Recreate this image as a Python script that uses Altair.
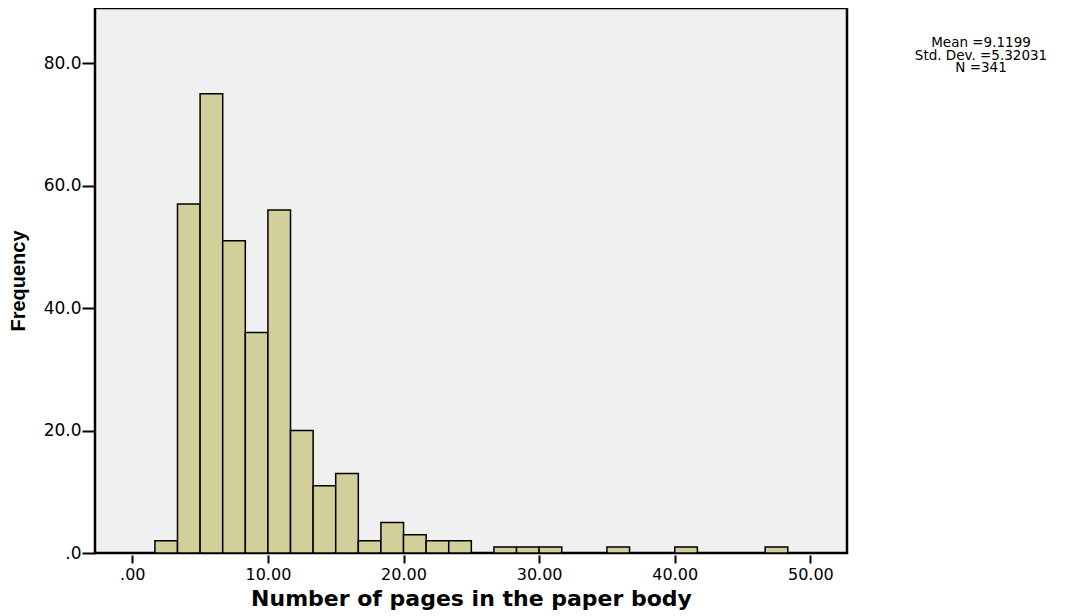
import altair as alt
import pandas as pd

bin_start = [1.6667, 3.3333, 5.0, 6.6667, 8.3333, 10.0, 11.6667, 13.3333, 15.0, 16.6667,
             18.3333, 20.0, 21.6667, 23.3333, 26.6667, 28.3333, 30.0, 35.0, 40.0, 46.6667]
counts = [2, 57, 75, 51, 36, 56, 20, 11, 13, 2, 5, 3, 2, 2, 1, 1, 1, 1, 1, 1]
bin_width = 5.0 / 3.0
stats_lines = ["Mean =9.1199", "Std. Dev. =5.32031", "N =341"]

df = pd.DataFrame({
    "start": bin_start,
    "end": [s + bin_width for s in bin_start],
    "count": counts,
})

FONT = "Liberation Sans"
WIDE = "DejaVu Sans"

x_scale = alt.Scale(domain=[-2.75, 52.7], nice=False, zero=False)
y_scale = alt.Scale(domain=[0, 89], nice=False)

bars = alt.Chart(df).mark_rect(
    fill="#D3CF9A", stroke="#000000", strokeWidth=1.5
).encode(
    x=alt.X("start:Q", scale=x_scale,
            axis=alt.Axis(values=[0, 10, 20, 30, 40, 50], grid=False,
                          labelExpr="datum.value == 0 ? '.00' : format(datum.value, '.2f')",
                          title="Number of pages in the paper body",
                          labelFont=WIDE, labelFontSize=16, labelColor="#000",
                          titleFont=WIDE, titleFontSize=22, titleFontWeight="bold",
                          titleColor="#000", titlePadding=6,
                          tickSize=8, tickWidth=2, tickColor="#000",
                          domain=False, labelPadding=3, offset=2)),
    x2="end:Q",
    y=alt.Y("count:Q", scale=y_scale,
            axis=alt.Axis(values=[0, 20, 40, 60, 80], grid=False,
                          labelExpr="datum.value == 0 ? '.0' : format(datum.value, '.1f')",
                          title="Frequency",
                          labelFont=WIDE, labelFontSize=17, labelColor="#000",
                          titleFont=FONT, titleFontSize=20, titleFontWeight="bold",
                          titleColor="#000", titlePadding=15,
                          tickSize=13, tickWidth=2, tickColor="#000",
                          domain=False, labelPadding=1)),
    y2=alt.datum(0),
)

stats_df = pd.DataFrame({"text": ["\n".join(stats_lines)]})
stats = alt.Chart(stats_df).mark_text(
    font=WIDE, fontSize=13.5, color="#000", align="center", baseline="alphabetic",
    lineBreak="\n", lineHeight=12.5
).encode(
    x=alt.value(886),
    y=alt.value(39),
    text="text:N",
)

chart = alt.layer(bars, stats).properties(
    width=752, height=545,
    background="#FFFFFF",
    padding={"left": 87, "top": 0, "right": 219, "bottom": 58},
    autosize=alt.AutoSizeParams(type="none"),
).configure_view(
    fill="#F0F0F0", stroke="#000000", strokeWidth=2.5
)

chart.save("out.html", embed_options={"renderer": "svg", "actions": False})
